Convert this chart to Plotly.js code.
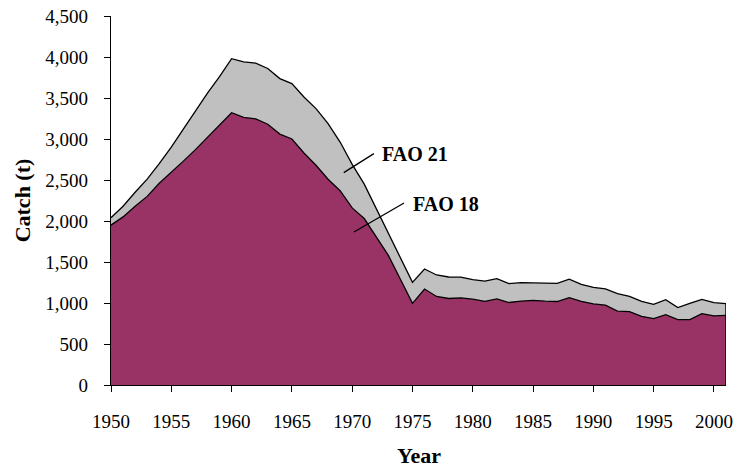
<!DOCTYPE html>
<html>
<head>
<meta charset="utf-8">
<script src="https://cdn.plot.ly/plotly-3.0.1.min.js"></script>
<style>
  html, body { margin: 0; padding: 0; background: #fff; }
</style>
</head>
<body>
<div id="chart"></div>
<script>
const years = [];
for (let y = 1950; y <= 2001; y++) years.push(y);

// catch in tonnes
const fao18 = [
  1950, 2050, 2180, 2300, 2460, 2590, 2730, 2870, 3020, 3170,
  3320, 3265, 3245, 3180, 3060, 3000, 2830, 2680, 2510, 2370,
  2160, 2030, 1810, 1580, 1290, 995, 1170, 1080, 1055, 1063,
  1047, 1021, 1050, 1006, 1024, 1033, 1022, 1018, 1065, 1021,
  990, 975, 900, 895, 838, 810, 858, 797, 797, 871,
  842, 850
];
const fao21 = [
  90, 130, 170, 210, 240, 310, 390, 470, 540, 590,
  660, 675, 680, 680, 677, 676, 682, 691, 678, 593,
  530, 420, 340, 266, 271, 257, 245, 262, 262, 252,
  238, 245, 247, 230, 224, 215, 226, 222, 225, 207,
  201, 196, 214, 187, 183, 174, 183, 147, 198, 174,
  162, 143
];

const FONT = 'Times New Roman';
const last = years.length - 1;

const traces = [
  {
    x: years, y: fao18, name: 'FAO 18', type: 'scatter', mode: 'lines',
    stackgroup: 'one', fillcolor: '#993366',
    line: {color: '#000', width: 1.3}, hoverinfo: 'skip'
  },
  {
    x: years, y: fao21, name: 'FAO 21', type: 'scatter', mode: 'lines',
    stackgroup: 'one', fillcolor: '#c0c0c0',
    line: {color: '#000', width: 1.3}, hoverinfo: 'skip'
  },
  // right-hand edge of the area
  {
    x: [years[last], years[last]], y: [0, fao18[last] + fao21[last]],
    type: 'scatter', mode: 'lines', line: {color: '#000', width: 1.5},
    hoverinfo: 'skip', showlegend: false
  }
];

const layout = {
  width: 740,
  height: 467,
  margin: {l: 111, r: 14, t: 16, b: 82},
  paper_bgcolor: '#fff',
  plot_bgcolor: '#fff',
  showlegend: false,
  font: {family: FONT, size: 19, color: '#000'},
  xaxis: {
    range: [1950, 2001],
    tick0: 1950, dtick: 5, tickformat: 'd',
    showgrid: false, zeroline: false,
    showline: true, linecolor: '#000', linewidth: 1.3,
    ticks: 'outside', ticklen: 6, tickcolor: '#000', tickwidth: 1,
    ticklabelstandoff: 13,
    tickfont: {family: FONT, size: 19, color: '#000'}
  },
  yaxis: {
    range: [0, 4500],
    dtick: 500, tickformat: ',d',
    showgrid: false, zeroline: false,
    showline: true, linecolor: '#000', linewidth: 1.3,
    ticks: 'outside', ticklen: 6, tickcolor: '#000', tickwidth: 1,
    ticklabelstandoff: 12,
    tickfont: {family: FONT, size: 19, color: '#000'},
    title: {text: '<b>Catch (t)</b>', font: {family: FONT, size: 22, color: '#000'}, standoff: 8}
  },
  shapes: [
    {type: 'line', xref: 'x', yref: 'y', x0: 1969.3, y0: 2590, x1: 1971.8, y1: 2822,
     line: {color: '#000', width: 1.3}},
    {type: 'line', xref: 'x', yref: 'y', x0: 1970.15, y0: 1866, x1: 1974.3, y1: 2220,
     line: {color: '#000', width: 1.3}}
  ],
  annotations: [
    // x axis title sits near the bottom edge
    {x: 0.5, y: -0.19, xref: 'paper', yref: 'paper', text: '<b>Year</b>', showarrow: false,
     xanchor: 'center', yanchor: 'middle', font: {family: FONT, size: 22, color: '#000'}},
    {x: 1972.3, y: 2822, xref: 'x', yref: 'y', text: '<b>FAO 21</b>', showarrow: false,
     xanchor: 'left', yanchor: 'middle', font: {family: FONT, size: 20, color: '#000'}},
    {x: 1974.85, y: 2212, xref: 'x', yref: 'y', text: '<b>FAO 18</b>', showarrow: false,
     xanchor: 'left', yanchor: 'middle', font: {family: FONT, size: 20, color: '#000'}}
  ]
};

Plotly.newPlot('chart', traces, layout, {displayModeBar: false});
</script>
</body>
</html>
